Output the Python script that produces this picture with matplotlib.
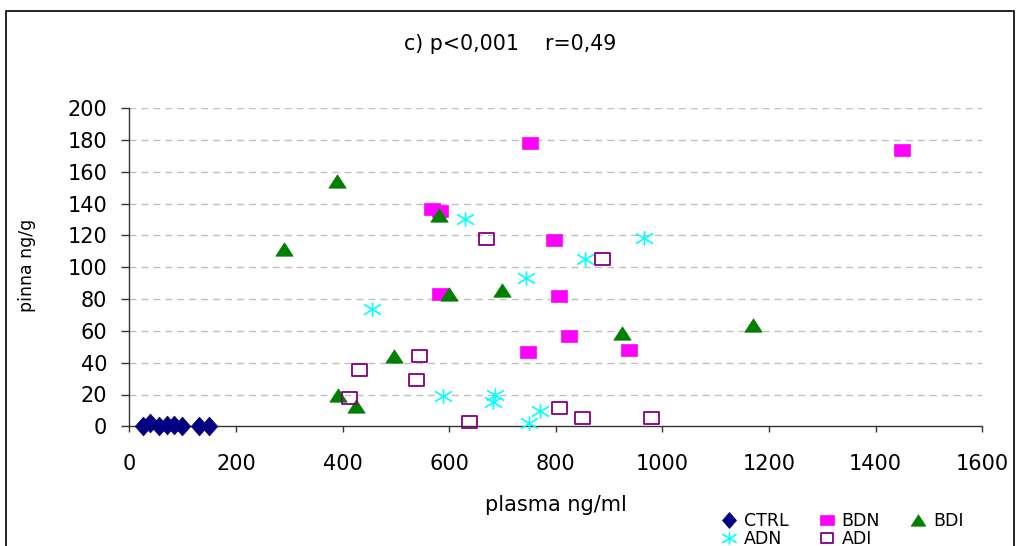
import matplotlib
matplotlib.use("Agg")
import matplotlib.pyplot as plt
from matplotlib.path import Path
from matplotlib.patches import Rectangle

# ---- data ----
ctrl_x = [26, 39, 56, 70, 83, 98, 130, 149]
ctrl_y = [0, 2.0, 0.5, 1, 1, 0.5, 0, 0.5]

bdn_x = [752, 567, 583, 797, 583, 806, 825, 748, 937, 1449]
bdn_y = [178, 136.5, 135.5, 117, 83, 82, 57, 47, 48, 173.5]

bdi_x = [390, 581, 291, 599, 699, 496, 392, 426, 924, 1169]
bdi_y = [154.5, 133, 111.5, 83.5, 85.5, 44, 19.5, 13, 58.5, 63.5]

adn_x = [629, 456, 744, 589, 686, 683, 749, 771, 854, 966]
adn_y = [130.5, 73.5, 93.5, 19, 19.5, 15.5, 2, 9.5, 105, 118.5]

adi_x = [670, 543, 431, 537, 412, 637, 806, 886, 849, 979]
adi_y = [118, 44.5, 35.5, 29, 18, 2.5, 11.5, 105, 5, 5]

x_ticks = [0, 200, 400, 600, 800, 1000, 1200, 1400, 1600]
y_ticks = [0, 20, 40, 60, 80, 100, 120, 140, 160, 180, 200]

title = "c) p<0,001    r=0,49"
xlabel = "plasma ng/ml"
ylabel = "pinna ng/g"

# ---- style ----
plt.rcParams['font.family'] = ['DejaVu Sans']
plt.rcParams['lines.scale_dashes'] = False

W, H = 1017, 546
fig = plt.figure(figsize=(W / 100, H / 100), dpi=100)
fig.patch.set_facecolor('white')

ax = fig.add_axes([129.3 / W, 1 - 426.3 / H, 853 / W, 318 / H])

# custom markers
diamond = Path([(0, 1), (0.88, 0), (0, -1), (-0.88, 0), (0, 1)],
               [Path.MOVETO, Path.LINETO, Path.LINETO, Path.LINETO, Path.CLOSEPOLY])
rect = Path([(-1, -0.8), (1, -0.8), (1, 0.8), (-1, 0.8), (-1, -0.8)],
            [Path.MOVETO, Path.LINETO, Path.LINETO, Path.LINETO, Path.CLOSEPOLY])
tri = Path([(-1, -0.77), (1, -0.77), (0, 0.77), (-1, -0.77)],
           [Path.MOVETO, Path.LINETO, Path.LINETO, Path.CLOSEPOLY])
aster = Path([(0, -0.86), (0, 0.86), (-1, -0.6), (1, 0.6), (-1, 0.6), (1, -0.6)],
             [Path.MOVETO, Path.LINETO, Path.MOVETO, Path.LINETO, Path.MOVETO, Path.LINETO])

h_ctrl, = ax.plot(ctrl_x, ctrl_y, linestyle='none', marker=diamond, ms=13.5,
                  mfc='#000080', mec='#000080', mew=0.5, clip_on=False, zorder=3, label='CTRL')
h_bdn, = ax.plot(bdn_x, bdn_y, linestyle='none', marker=rect, ms=11.5,
                 mfc='#FF00FF', mec='#FF00FF', mew=0.5, clip_on=False, zorder=3, label='BDN')
h_bdi, = ax.plot(bdi_x, bdi_y, linestyle='none', marker=tri, ms=12.5,
                 mfc='#008000', mec='#008000', mew=0.5, clip_on=False, zorder=3, label='BDI')
h_adn, = ax.plot(adn_x, adn_y, linestyle='none', marker=aster, ms=12.2,
                 mfc='none', mec='#00FFFF', mew=1.2, clip_on=False, zorder=3, label='ADN')
h_adi, = ax.plot(adi_x, adi_y, linestyle='none', marker=rect, ms=10.8,
                 mfc='none', mec='#800080', mew=1.3, clip_on=False, zorder=3, label='ADI')

ax.set_xlim(0, 1600)
ax.set_ylim(0, 200)
ax.set_xticks(x_ticks)
ax.set_yticks(y_ticks)
ax.set_xticklabels([str(v) for v in x_ticks])
ax.set_yticklabels([str(v) for v in y_ticks])

for t in y_ticks[1:]:
    ax.axhline(t, color='#c0c0c0', lw=1.0, linestyle=(0, (5, 3.6)), zorder=1)

for s in ['top', 'right']:
    ax.spines[s].set_visible(False)
for s in ['left', 'bottom']:
    ax.spines[s].set_color('#333333')
    ax.spines[s].set_linewidth(1.0)

ax.tick_params(axis='y', direction='out', length=5.5, width=1.0, color='#333333',
               labelsize=15, pad=10.4)
ax.tick_params(axis='x', direction='out', length=4.5, width=1.0, color='#333333',
               labelsize=15, pad=15.5)

ax.set_xlabel(xlabel, fontsize=15)
ax.xaxis.label.set_verticalalignment('center')
ax.xaxis.set_label_coords(0.5, (426.3 - 505) / 318)
ax.set_ylabel(ylabel, fontsize=12.5)
ax.yaxis.label.set_verticalalignment('center')
ax.yaxis.set_label_coords((27 - 129.3) / 853, (426.3 - 265.5) / 318)

fig.text(510 / W, 1 - 44 / H, title, ha='center', va='center', fontsize=14.8)

# legend
leg = fig.legend(handles=[h_ctrl, h_adn, h_bdn, h_adi, h_bdi],
                 labels=['CTRL', 'ADN', 'BDN', 'ADI', 'BDI'],
                 ncol=3, loc='upper left', bbox_to_anchor=(720.7 / W, 1 - 512 / H),
                 frameon=False, fontsize=12.5, markerscale=0.85, handlelength=1.0,
                 handletextpad=0.35, columnspacing=1.7, borderpad=0, borderaxespad=0,
                 labelspacing=0.0)

# outer frame
fig.add_artist(Rectangle((6 / W, -0.05), (1014 - 6) / W, 1 - 11 / H + 0.05,
                         transform=fig.transFigure, fill=False, edgecolor='black',
                         lw=1.2, clip_on=False))

fig.savefig('out.png', dpi=100)
